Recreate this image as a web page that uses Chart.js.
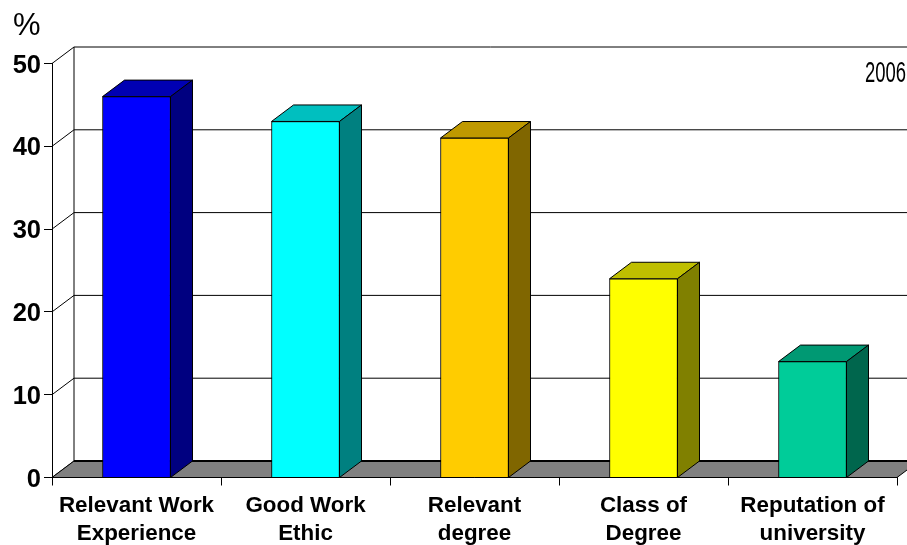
<!DOCTYPE html>
<html>
<head>
<meta charset="utf-8">
<style>
  html, body { margin: 0; padding: 0; background: #fff; }
  #wrap { width: 907px; height: 545px; }
</style>
<script src="https://cdn.jsdelivr.net/npm/chart.js@4"></script>
</head>
<body>
<div id="wrap"><canvas id="chart" width="907" height="545"></canvas></div>
<script>
const categories = [
    ['Relevant Work', 'Experience'],
    ['Good Work', 'Ethic'],
    ['Relevant', 'degree'],
    ['Class of', 'Degree'],
    ['Reputation of', 'university']
];
const values = [46, 43, 41, 24, 14];
const frontColors = ['#0000ff', '#00ffff', '#ffcc00', '#ffff00', '#00cc99'];
const topColors = ['#0000b3', '#00bfbf', '#bf9900', '#bfbf00', '#009973'];
const sideColors = ['#000080', '#008080', '#806600', '#808000', '#00664d'];

// offset of the back wall from the front plane
const depthX = 22;
const depthY = 16.5;

function poly(ctx, pts, fill, stroke) {
    ctx.beginPath();
    ctx.moveTo(pts[0][0], pts[0][1]);
    pts.slice(1).forEach(p => ctx.lineTo(p[0], p[1]));
    ctx.closePath();
    if (fill) {
        ctx.fillStyle = fill;
        ctx.fill();
    }
    if (stroke) {
        ctx.strokeStyle = stroke;
        ctx.lineWidth = 1;
        ctx.stroke();
    }
}

const box3d = {
    id: 'box3d',
    // walls, grid and floor go behind the bars
    beforeDatasetsDraw(chart) {
        const ctx = chart.ctx;
        const y = chart.scales.y;
        const a = chart.chartArea;
        const edge = chart.width;
        ctx.save();
        ctx.lineWidth = 1;
        ctx.strokeStyle = '#000';
        y.ticks.forEach(t => {
            const py = y.getPixelForValue(t.value);
            ctx.beginPath();
            ctx.moveTo(a.left, py);
            ctx.lineTo(a.left + depthX, py - depthY);
            ctx.lineTo(edge, py - depthY);
            ctx.stroke();
        });
        ctx.beginPath();
        ctx.moveTo(a.left + depthX, y.getPixelForValue(50) - depthY);
        ctx.lineTo(a.left + depthX, y.getPixelForValue(0) - depthY);
        ctx.stroke();
        const base = y.getPixelForValue(0);
        poly(ctx, [
            [a.left, base],
            [a.left + depthX, base - depthY],
            [a.right + depthX, base - depthY],
            [a.right, base]
        ], '#808080', '#000');
        ctx.beginPath();
        ctx.lineWidth = 2;
        ctx.moveTo(a.left + depthX, base - depthY);
        ctx.lineTo(edge, base - depthY);
        ctx.stroke();
        // top and side faces of the bars
        chart.getDatasetMeta(0).data.forEach((bar, i) => {
            const half = bar.width / 2;
            const l = bar.x - half;
            const r = bar.x + half;
            poly(ctx, [
                [l, bar.y],
                [l + depthX, bar.y - depthY],
                [r + depthX, bar.y - depthY],
                [r, bar.y]
            ], topColors[i], '#000');
            poly(ctx, [
                [r, bar.y],
                [r + depthX, bar.y - depthY],
                [r + depthX, base - depthY],
                [r, base]
            ], sideColors[i], '#000');
        });
        ctx.restore();
    },
    afterDraw(chart) {
        const ctx = chart.ctx;
        const y = chart.scales.y;
        ctx.save();
        ctx.fillStyle = '#000';
        ctx.textBaseline = 'alphabetic';
        ctx.font = '31px "Liberation Sans"';
        ctx.fillText('%', 13, 35);
        ctx.font = '29px "Liberation Sans Narrow", "Liberation Sans"';
        ctx.fillText('2006', 865, 82, 41);
        // y labels sit a little under their ticks in the original
        ctx.font = 'bold 25.5px "Liberation Sans"';
        ctx.textAlign = 'right';
        ctx.textBaseline = 'middle';
        y.ticks.forEach(t => {
            ctx.fillText(t.label, 41, y.getPixelForValue(t.value) + 2);
        });
        ctx.restore();
    }
};

new Chart(document.getElementById('chart'), {
    type: 'bar',
    data: {
        labels: categories,
        datasets: [{
            data: values,
            backgroundColor: frontColors,
            borderColor: '#000',
            borderWidth: 1,
            barThickness: 68
        }]
    },
    options: {
        responsive: false,
        animation: false,
        layout: { padding: { top: 63.5, right: 10, left: 0, bottom: 0 } },
        plugins: {
            legend: { display: false },
            tooltip: { enabled: false }
        },
        scales: {
            x: {
                grid: { drawOnChartArea: false, color: '#000', tickLength: 8 },
                border: { color: '#000' },
                ticks: {
                    color: '#000',
                    padding: 6,
                    maxRotation: 0,
                    font: { family: '"Liberation Sans"', size: 22.4, weight: 'bold', lineHeight: 1.27 }
                },
                afterFit(scale) { scale.height = 67.5; }
            },
            y: {
                min: 0,
                max: 50,
                ticks: {
                    stepSize: 10,
                    display: false
                },
                grid: { drawOnChartArea: false, color: '#000', tickLength: 8 },
                border: { color: '#000' },
                afterFit(scale) { scale.width = 52; }
            }
        }
    },
    plugins: [box3d]
});
</script>
</body>
</html>
